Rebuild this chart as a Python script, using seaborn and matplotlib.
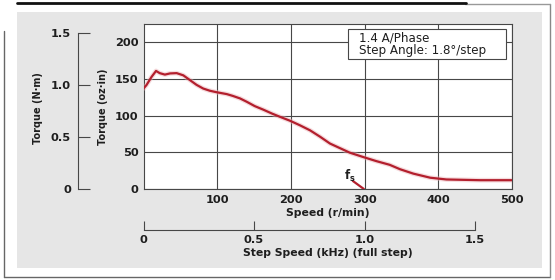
import matplotlib
matplotlib.use("Agg")
import matplotlib.pyplot as plt
import seaborn as sns
import pandas as pd
from matplotlib.patches import Rectangle
from matplotlib.lines import Line2D

# ---------------- data ----------------
speed_rpm = [0, 4, 11, 17, 22, 29, 36, 45, 54, 63, 72, 81, 90, 99, 113, 121, 131,
             140, 151, 163, 174, 185, 199, 212, 226, 240, 253, 267, 280, 300, 316,
             334, 348, 366, 389, 411, 457, 500]
torque_ozin = [137, 141.7, 153, 161, 158, 156, 157.6, 158, 155, 148.5, 142, 137, 134,
               132, 129.4, 127, 123.5, 119, 113, 108, 103, 98.5, 93, 87, 80, 71, 62,
               55.5, 49.5, 43, 38, 33, 27, 21, 15.4, 13, 12, 12]
fs_speed = [284, 299]
fs_torque = [11, 0]
oz_ticks = [0, 50, 100, 150, 200]
nm_ticks = [0, 0.5, 1.0, 1.5]
nm_labels = ["0", "0.5", "1.0", "1.5"]
rpm_ticks = [100, 200, 300, 400, 500]
khz_ticks = [0, 0.5, 1.0, 1.5]
khz_labels = ["0", "0.5", "1.0", "1.5"]
box_lines = ["1.4 A/Phase", "Step Angle: 1.8°/step"]
x_label = "Speed (r/min)"
x2_label = "Step Speed (kHz) (full step)"
y_label = "Torque (oz·in)"
y2_label = "Torque (N·m)"
OZIN_PER_NM = 141.612
RPM_PER_KHZ = 300.0

df = pd.DataFrame({"speed": speed_rpm, "torque": torque_ozin})

# ---------------- style ----------------
sns.set_theme(style="white")
plt.rcParams["font.family"] = ["DejaVu Sans"]
plt.rcParams["mathtext.fontset"] = "dejavusans"

W, H = 555, 280
fig = plt.figure(figsize=(W / 100, H / 100), dpi=100)
fig.patch.set_facecolor("white")


def fx(px):
    return px / W


def fy(py):
    return 1 - py / H


TXT = "#1e1e1e"
LINE = "#474747"
RED = "#b31f2d"

# gray panel
fig.add_artist(Rectangle((fx(17), fy(268)), fx(542) - fx(17), fy(12) - fy(268),
                         transform=fig.transFigure, facecolor="#e6e6e6",
                         edgecolor="none", zorder=-5))
# outer frame
fig.add_artist(Line2D([fx(4), fx(4)], [fy(31), fy(277)], transform=fig.transFigure,
                      color="#666666", lw=1.0, zorder=-4))
fig.add_artist(Line2D([fx(4), fx(550)], [fy(277), fy(277)], transform=fig.transFigure,
                      color="#666666", lw=1.0, zorder=-4))
fig.add_artist(Line2D([fx(550), fx(550)], [fy(4), fy(277)], transform=fig.transFigure,
                      color="#888888", lw=1.0, zorder=-4))
fig.add_artist(Line2D([fx(465), fx(550)], [fy(4), fy(4)], transform=fig.transFigure,
                      color="#999999", lw=1.0, zorder=-4))
fig.add_artist(Line2D([fx(17), fx(466)], [fy(3), fy(3)], transform=fig.transFigure,
                      color="#111111", lw=2.0, zorder=-4))

# ---------------- main axes ----------------
ax = fig.add_axes([fx(143.5), fy(189), (512 - 143.5) / W, (189 - 24) / H])
ax.set_facecolor("white")
sns.lineplot(data=df, x="speed", y="torque", ax=ax, color="#eab0b5", lw=3.4,
             alpha=0.45, zorder=3)
sns.lineplot(data=df, x="speed", y="torque", ax=ax, color=RED, lw=1.6, zorder=4)
sns.lineplot(x=fs_speed, y=fs_torque, ax=ax, color=RED, lw=1.6, zorder=4)
ax.text(280, 17.5, r"$\mathbf{f_s}$", fontsize=8.5, color=TXT, ha="center",
        va="center", zorder=5)

ax.set_xlim(0, 500)
ax.set_ylim(0, 225)
ax.set_xticks(rpm_ticks)
ax.set_yticks(oz_ticks)
ax.set_xlabel("")
ax.set_ylabel("")
ax.grid(True, color=LINE, lw=0.8)
for s in ax.spines.values():
    s.set_visible(True)
    s.set_color(LINE)
    s.set_linewidth(0.8)
ax.tick_params(axis="x", length=0, pad=4.3, labelsize=8.2, labelcolor=TXT)
ax.tick_params(axis="y", length=0, pad=3.6, labelsize=8.2, labelcolor=TXT)
for lab in ax.get_xticklabels() + ax.get_yticklabels():
    lab.set_fontweight("bold")

# ---------------- N·m axis (left, outer) ----------------
ax2 = ax.twinx()
ax2.set_ylim(0, 225 / OZIN_PER_NM)
for k, s in ax2.spines.items():
    s.set_visible(k == "left")
ax2.spines["left"].set_position(("axes", (78 - 143.5) / 368.5))
ax2.spines["left"].set_bounds(0, 1.5)
ax2.spines["left"].set_color(LINE)
ax2.spines["left"].set_linewidth(0.8)
ax2.yaxis.set_ticks_position("left")
ax2.set_yticks(nm_ticks)
ax2.set_yticklabels(nm_labels)
ax2.tick_params(axis="y", direction="in", length=8.5, width=0.8, color=LINE,
                pad=5, labelsize=8.2, labelcolor=TXT)
for lab in ax2.get_yticklabels():
    lab.set_fontweight("bold")
ax2.grid(False)

# ---------------- kHz axis (bottom, outer) ----------------
ax3 = ax.twiny()
ax3.set_xlim(0, 500 / RPM_PER_KHZ)
for k, s in ax3.spines.items():
    s.set_visible(k == "bottom")
ax3.spines["bottom"].set_position(("outward", 41 * 0.72))
ax3.spines["bottom"].set_bounds(0, 1.5)
ax3.spines["bottom"].set_color(LINE)
ax3.spines["bottom"].set_linewidth(0.8)
ax3.xaxis.set_ticks_position("bottom")
ax3.set_xticks(khz_ticks)
ax3.set_xticklabels(khz_labels)
ax3.tick_params(axis="x", direction="in", length=6.5, width=0.8, color=LINE,
                pad=3.4, labelsize=8.2, labelcolor=TXT)
for lab in ax3.get_xticklabels():
    lab.set_fontweight("bold")
ax3.grid(False)

# ---------------- axis titles ----------------
fig.text(fx(327.75), fy(212.7), x_label, ha="center", va="center", fontsize=7.8,
         fontweight="bold", color=TXT)
fig.text(fx(327.75), fy(253), x2_label, ha="center", va="center", fontsize=7.8,
         fontweight="bold", color=TXT)
fig.text(fx(103), fy(107), y_label, ha="center", va="center", fontsize=7.0,
         fontweight="bold", color=TXT, rotation=90)
fig.text(fx(38), fy(108), y2_label, ha="center", va="center", fontsize=7.0,
         fontweight="bold", color=TXT, rotation=90)

# ---------------- info box ----------------
fig.add_artist(Rectangle((fx(348.3), fy(58.7)), fx(506) - fx(348.3), fy(29.3) - fy(58.7),
                         transform=fig.transFigure, facecolor="white",
                         edgecolor=LINE, lw=0.8, zorder=10))
fig.text(fx(359), fy(38.3), box_lines[0], ha="left", va="center", fontsize=8.6,
         color=TXT, zorder=11)
fig.text(fx(359), fy(50.7), box_lines[1], ha="left", va="center", fontsize=8.6,
         color=TXT, zorder=11)

fig.savefig("out.png", dpi=100, facecolor=fig.get_facecolor())
